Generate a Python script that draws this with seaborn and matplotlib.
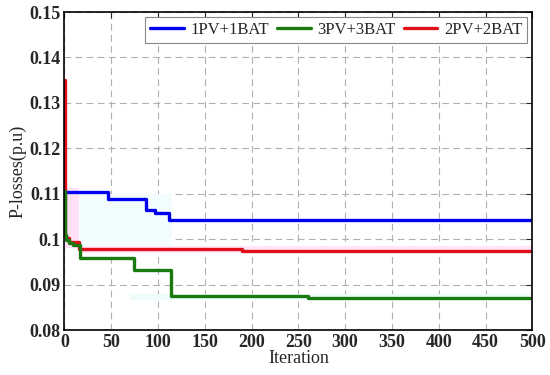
import numpy as np
import pandas as pd
import matplotlib
matplotlib.use("Agg")
import matplotlib.pyplot as plt
import seaborn as sns

# step data
it_1pv = [0, 1, 47, 65, 87, 97, 112, 500]
loss_1pv = [0.1105, 0.1104, 0.1089, 0.1088, 0.1065, 0.1057, 0.1043, 0.1043]

it_3pv = [0, 1, 2, 5, 9, 17, 74, 114, 260, 500]
loss_3pv = [0.1105, 0.1010, 0.0998, 0.0992, 0.0987, 0.0958, 0.0932, 0.0875, 0.0871, 0.0871]

it_2pv = [0, 1, 2, 5, 16, 190, 500]
loss_2pv = [0.1350, 0.1010, 0.1002, 0.0993, 0.0978, 0.0975, 0.0975]

x_ticks = [0, 50, 100, 150, 200, 250, 300, 350, 400, 450, 500]
y_ticks = [0.08, 0.09, 0.10, 0.11, 0.12, 0.13, 0.14, 0.15]
y_ticklabels = ["0.08", "0.09", "0.1", "0.11", "0.12", "0.13", "0.14", "0.15"]

sns.set_style("white")
plt.rcParams["font.family"] = ["Liberation Serif", "DejaVu Serif"]

fig, ax = plt.subplots(figsize=(5.5, 3.75), dpi=100)

# faint uncertainty bands
ax.fill_between([0, 16], 0.098, 0.1112, color="#ffe0f6", lw=0)
ax.fill_between([16, 500], 0.0970, 0.0985, color="#ffe6f8", lw=0)
ax.fill_between([16, 115], 0.0985, 0.1100, color="#f4fdfd", lw=0)
ax.fill_between([70, 500], 0.0866, 0.0880, color="#effcfc", lw=0)

df1 = pd.DataFrame({"it": it_1pv, "loss": loss_1pv})
df3 = pd.DataFrame({"it": it_3pv, "loss": loss_3pv})
df2 = pd.DataFrame({"it": it_2pv, "loss": loss_2pv})

sns.lineplot(data=df1, x="it", y="loss", ax=ax, color="#0000ee", lw=2.4,
             drawstyle="steps-post", label="1PV+1BAT")
sns.lineplot(data=df2, x="it", y="loss", ax=ax, color="#e0101a", lw=2.4,
             drawstyle="steps-post", label="2PV+2BAT")
sns.lineplot(data=df3, x="it", y="loss", ax=ax, color="#1a7a10", lw=2.4,
             drawstyle="steps-post", label="3PV+3BAT")

ax.set_xlim(0, 500)
ax.set_ylim(0.08, 0.15)
ax.set_xticks(x_ticks)
ax.set_yticks(y_ticks)
ax.set_yticklabels(y_ticklabels)
ax.tick_params(direction="in", top=True, right=True, length=4, labelsize=13, pad=3)
for lab in ax.get_xticklabels() + ax.get_yticklabels():
    lab.set_fontweight("bold")
ax.grid(True, ls=(0, (6, 4)), color="#b0b0b0", lw=0.8)
for s in ax.spines.values():
    s.set_color("black")
    s.set_linewidth(1.2)

ax.set_xlabel("Iteration", fontsize=13, labelpad=-1)
ax.set_ylabel("P-losses(p.u)", fontsize=13, labelpad=2)

h, l = ax.get_legend_handles_labels()
order = [0, 2, 1]
leg = ax.legend([h[i] for i in order], [l[i] for i in order], ncol=3,
                loc="upper right", prop={"size": 12},
                fancybox=False, framealpha=1, edgecolor="#888888",
                handlelength=2.0, columnspacing=0.5, handletextpad=0.4,
                borderaxespad=0.3, borderpad=0.3)
leg.get_frame().set_linewidth(0.8)

plt.subplots_adjust(left=0.117, right=0.968, top=0.968, bottom=0.12)
plt.savefig("out.png", dpi=100)
